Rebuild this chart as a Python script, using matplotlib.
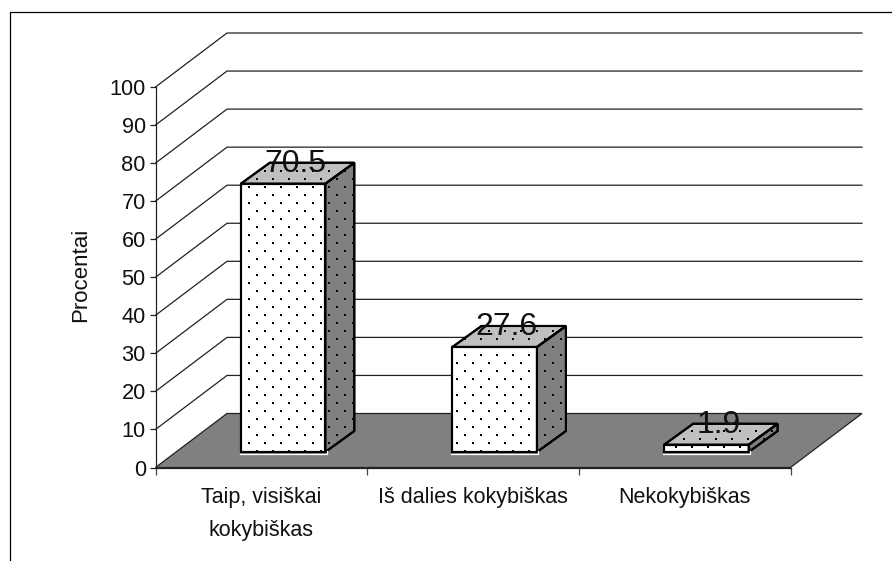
import numpy as np
import matplotlib
matplotlib.use("Agg")
import matplotlib.pyplot as plt
from matplotlib.patches import Polygon
from matplotlib.lines import Line2D

categories = ["Taip, visiškai\nkokybiškas", "Iš dalies kokybiškas", "Nekokybiškas"]
values = [70.5, 27.6, 1.9]
y_ticks = list(range(0, 101, 10))
y_label = "Procentai"

W, H = 892, 561
plt.rcParams["font.family"] = ["Liberation Sans", "DejaVu Sans"]
fig = plt.figure(figsize=(W / 100, H / 100), dpi=100)
L, R, B, T = 155.5, 790.5, 467.5, 87.0
ax = fig.add_axes([L / W, 1 - B / H, (R - L) / W, (B - T) / H])
ax.set_xlim(0, len(categories))
ax.set_ylim(0, 100)
ax.patch.set_visible(False)
for s in ("top", "right"):
    ax.spines[s].set_visible(False)
for s in ("left", "bottom"):
    ax.spines[s].set_linewidth(0.9)
    ax.spines[s].set_color("#222222")
    ax.spines[s].set_zorder(6)

ux = len(categories) / (R - L)   # data units per pixel
uy = 100 / (B - T)
DX, DY = 71.5 * ux, 54.0 * uy    # wall depth
BX, BY = 21.7 * ux, 15.5 * uy    # bar front plane offset
CX, CY = 29.0 * ux, 21.0 * uy    # bar depth
BW = 84.5 * ux


def poly(pts, fc, ec="black", lw=1.5, z=3):
    p = Polygon(pts, closed=True, facecolor=fc, edgecolor=ec, linewidth=lw,
                joinstyle="miter", zorder=z, clip_on=False)
    ax.add_patch(p)
    return p


def stipple(p, x0, y0, z):
    xp = np.arange(0, W, 8.0) + (x0 % 8)
    yp = np.arange(0, H, 8.0) + (y0 % 8)
    X, Y = np.meshgrid(xp, yp)
    keep = (np.round((X - x0) / 8).astype(int) + np.round((Y - y0) / 8).astype(int)) % 2 == 0
    dx = (X[keep] - L) * ux
    dy = (B - Y[keep]) * uy
    sc = ax.scatter(dx, dy, s=1.7, marker="s", c="black", linewidths=0, zorder=z, clip_on=True)
    sc.set_clip_path(p)


# floor and walls
poly([(0, 0), (3, 0), (3 + DX, DY), (DX, DY)], "#808080", ec="#222222", lw=0.9, z=1)
for v in y_ticks[1:]:
    ax.add_line(Line2D([0, DX, 3 + DX], [v, v + DY, v + DY], color="#222222", lw=0.9,
                       zorder=1, clip_on=False))

# bars
phases = [(249, 187), (465, 355), (676, 447)]
for i, v in enumerate(values):
    x0 = i + 0.5 - BW / 2 + BX
    x1 = x0 + BW
    y0, y1 = BY, BY + v
    side = poly([(x1, y0), (x1 + CX, y0 + CY), (x1 + CX, y1 + CY), (x1, y1)], "#808080")
    top = poly([(x0, y1), (x1, y1), (x1 + CX, y1 + CY), (x0 + CX, y1 + CY)], "#c0c0c0")
    front = poly([(x0, y0), (x1, y0), (x1, y1), (x0, y1)], "white")
    for f in (side, top, front):
        stipple(f, *phases[i], 3.5)
    # re-stroke outlines above the dots
    for pts in (side.get_xy(), top.get_xy(), front.get_xy()):
        poly(pts, "none", z=3.6)
    # white halo along the bottom and right of the front face
    ax.add_line(Line2D([x0 - 1 * ux, x1 + 1.5 * ux, x1 + 1.5 * ux],
                       [y0 - 1.5 * uy, y0 - 1.5 * uy, y0 + 1 * uy], color="white", lw=0.9,
                       zorder=3.7, clip_on=False))
    ax.annotate(f"{v:.1f}", xy=(i + 0.5 + BX + CX / 2, y1 + CY / 2), xycoords="data",
                xytext=(-2.5, 9), textcoords="offset pixels", ha="center", va="center",
                fontsize=23, color="#111111", zorder=7)

ax.set_xticks(range(len(categories) + 1))
ax.set_xticklabels([])
ax.set_yticks(y_ticks)
ax.tick_params(axis="y", direction="out", length=4.2, width=0.9, color="#222222", labelsize=15.7,
               pad=2.8, labelcolor="#111111")
ax.tick_params(axis="x", direction="out", length=5, width=0.9, color="#444444")
for i, c in enumerate(categories):
    ax.annotate(c, xy=(i + 0.5, 0), xycoords="data", xytext=(0, -20),
                textcoords="offset pixels", ha="center", va="top", fontsize=15.5,
                color="#111111", linespacing=1.7)
fig.text(80.5 / W, 1 - 275 / H, y_label, rotation=90, ha="center", va="center",
         fontsize=16, color="#111111")

# chart frame
fig.add_artist(Line2D([9.5 / W, 9.5 / W, 1], [0, 1 - 11.5 / H, 1 - 11.5 / H],
                      color="black", lw=0.9, transform=fig.transFigure))

fig.savefig("out.png", dpi=100, facecolor="white")
